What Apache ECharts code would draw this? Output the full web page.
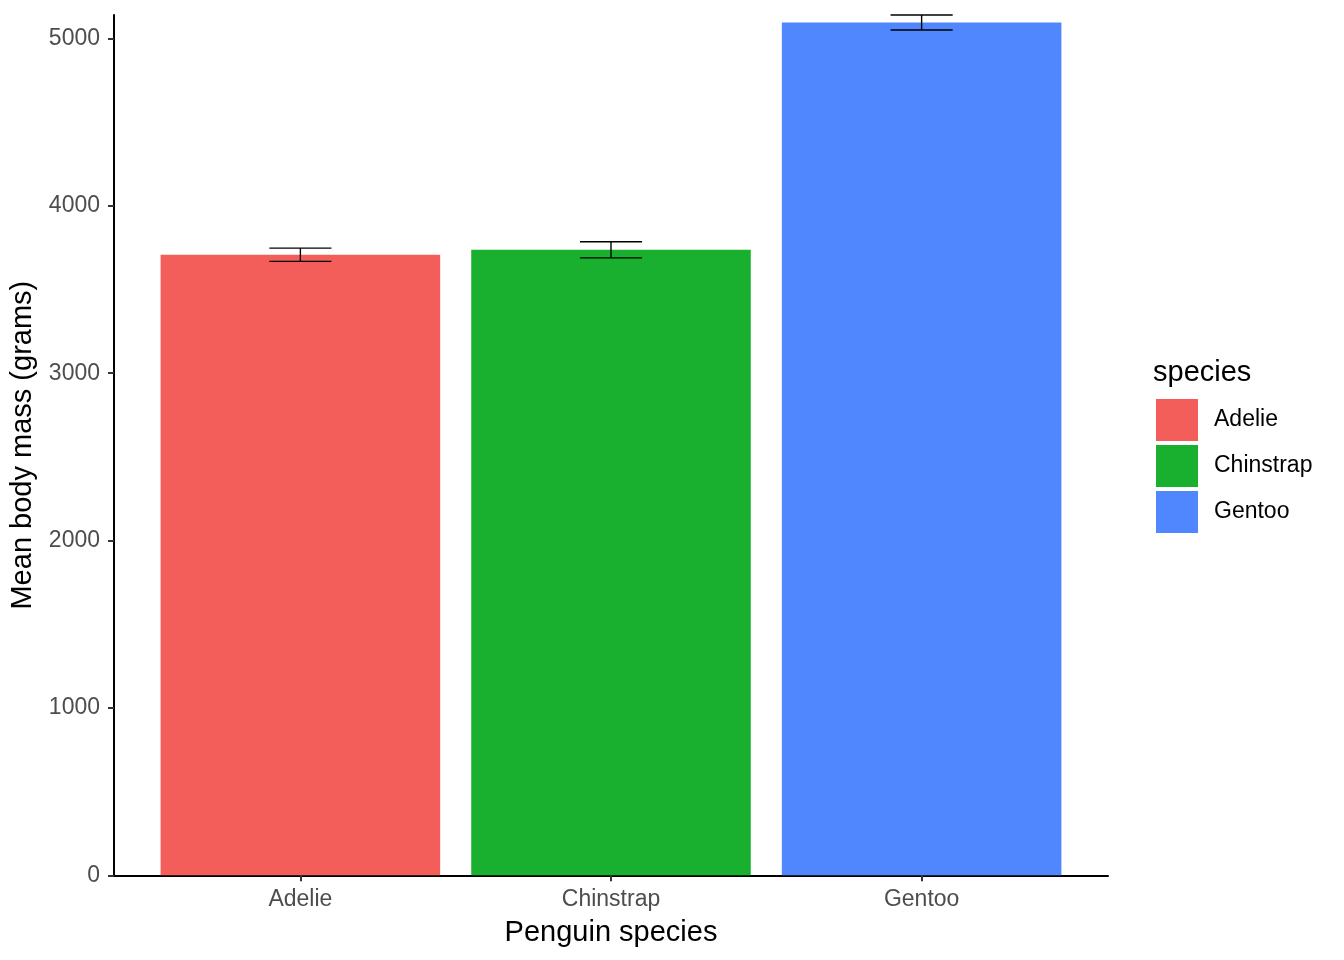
<!DOCTYPE html>
<html>
<head>
<meta charset="utf-8">
<script src="https://cdn.jsdelivr.net/npm/echarts@6/dist/echarts.min.js"></script>
<style>
  html, body { margin: 0; padding: 0; background: #ffffff; }
  #chart { width: 1344px; height: 960px; }
</style>
</head>
<body>
<div id="chart"></div>
<script>
// ---- data ----
const categories = ['Adelie', 'Chinstrap', 'Gentoo'];
const meanMass   = [3707, 3737, 5095];
const errLower   = [3668, 3689, 5050];
const errUpper   = [3747, 3785, 5140];
const yTicks     = [0, 1000, 2000, 3000, 4000, 5000];
const xTicks     = [1, 2, 3];
const speciesColors = ['#F35E5A', '#1AB02F', '#5087FF'];

const FONT = '"Liberation Sans", Arial, Helvetica, sans-serif';
const BAR_WIDTH = 0.9;   // in category units (ggplot default)
const CAP_WIDTH = 0.2;   // errorbar width

const chart = echarts.init(document.getElementById('chart'), null, { renderer: 'canvas' });

function barRender(params, api) {
  const x = api.value(0), y = api.value(1);
  const p0 = api.coord([x - BAR_WIDTH / 2, 0]);
  const p1 = api.coord([x + BAR_WIDTH / 2, y]);
  return {
    type: 'rect',
    shape: { x: p0[0], y: p1[1], width: p1[0] - p0[0], height: p0[1] - p1[1] },
    style: { fill: api.visual('color') }
  };
}

function errRender(params, api) {
  const x = api.value(0), lo = api.value(1), hi = api.value(2);
  const pl = api.coord([x - CAP_WIDTH / 2, lo]);
  const pr = api.coord([x + CAP_WIDTH / 2, hi]);
  const pc = api.coord([x, lo]);
  const style = { stroke: '#000000', lineWidth: 1.4 };
  return {
    type: 'group',
    children: [
      { type: 'line', shape: { x1: pl[0], y1: pr[1], x2: pr[0], y2: pr[1] }, style: style },
      { type: 'line', shape: { x1: pl[0], y1: pl[1], x2: pr[0], y2: pl[1] }, style: style },
      { type: 'line', shape: { x1: pc[0], y1: pr[1], x2: pc[0], y2: pl[1] }, style: style }
    ]
  };
}

const barSeries = categories.map((name, i) => ({
  name: name,
  type: 'custom',
  renderItem: barRender,
  clip: false,
  itemStyle: { color: speciesColors[i] },
  encode: { x: 0, y: 1 },
  data: [[i + 1, meanMass[i]]],
  z: 2
}));

const errSeries = {
  name: 'errorbars',
  type: 'custom',
  renderItem: errRender,
  clip: false,
  encode: { x: 0, y: [1, 2] },
  data: categories.map((c, i) => [i + 1, errLower[i], errUpper[i]]),
  z: 5
};

const option = {
  animation: false,
  backgroundColor: '#ffffff',
  grid: {
    left: 114, right: 1344 - 1108, top: 15, bottom: 960 - 875.3,
    containLabel: false, outerBoundsMode: 'none'
  },
  xAxis: {
    type: 'value',
    min: 0.4,
    max: 3.6,
    name: 'Penguin species',
    nameLocation: 'middle',
    nameGap: 43,
    nameTextStyle: { fontFamily: FONT, fontSize: 29, color: '#000000' },
    axisLine: { show: true, onZero: false, lineStyle: { color: '#000000', width: 2 } },
    axisTick: { show: true, customValues: xTicks, length: 6, lineStyle: { color: '#333333', width: 2 } },
    axisLabel: {
      customValues: xTicks,
      formatter: v => categories[Math.round(v) - 1],
      margin: 13,
      fontFamily: FONT, fontSize: 23, color: '#4D4D4D'
    },
    splitLine: { show: false }
  },
  yAxis: {
    type: 'value',
    min: 0,
    max: 5140,
    name: 'Mean body mass (grams)',
    nameLocation: 'middle',
    nameGap: 74,
    nameTextStyle: { fontFamily: FONT, fontSize: 29, color: '#000000' },
    axisLine: { show: true, onZero: false, lineStyle: { color: '#000000', width: 2 } },
    axisTick: { show: true, customValues: yTicks, length: 6, lineStyle: { color: '#333333', width: 2 } },
    axisLabel: {
      customValues: yTicks,
      formatter: v => String(v),
      margin: 14,
      fontFamily: FONT, fontSize: 23, color: '#4D4D4D'
    },
    splitLine: { show: false }
  },
  legend: {
    show: true,
    data: categories,
    orient: 'vertical',
    left: 1156,
    top: 399,
    padding: 0,
    itemWidth: 42,
    itemHeight: 42,
    itemGap: 4,
    icon: 'rect',
    selectedMode: false,
    textStyle: { fontFamily: FONT, fontSize: 23, color: '#000000', padding: [6, 0, 0, 11] }
  },
  graphic: [
    {
      type: 'text',
      left: 1153,
      top: 358,
      style: { text: 'species', font: '29px ' + FONT, fill: '#000000' }
    }
  ],
  series: barSeries.concat([errSeries])
};

chart.setOption(option);
</script>
</body>
</html>
